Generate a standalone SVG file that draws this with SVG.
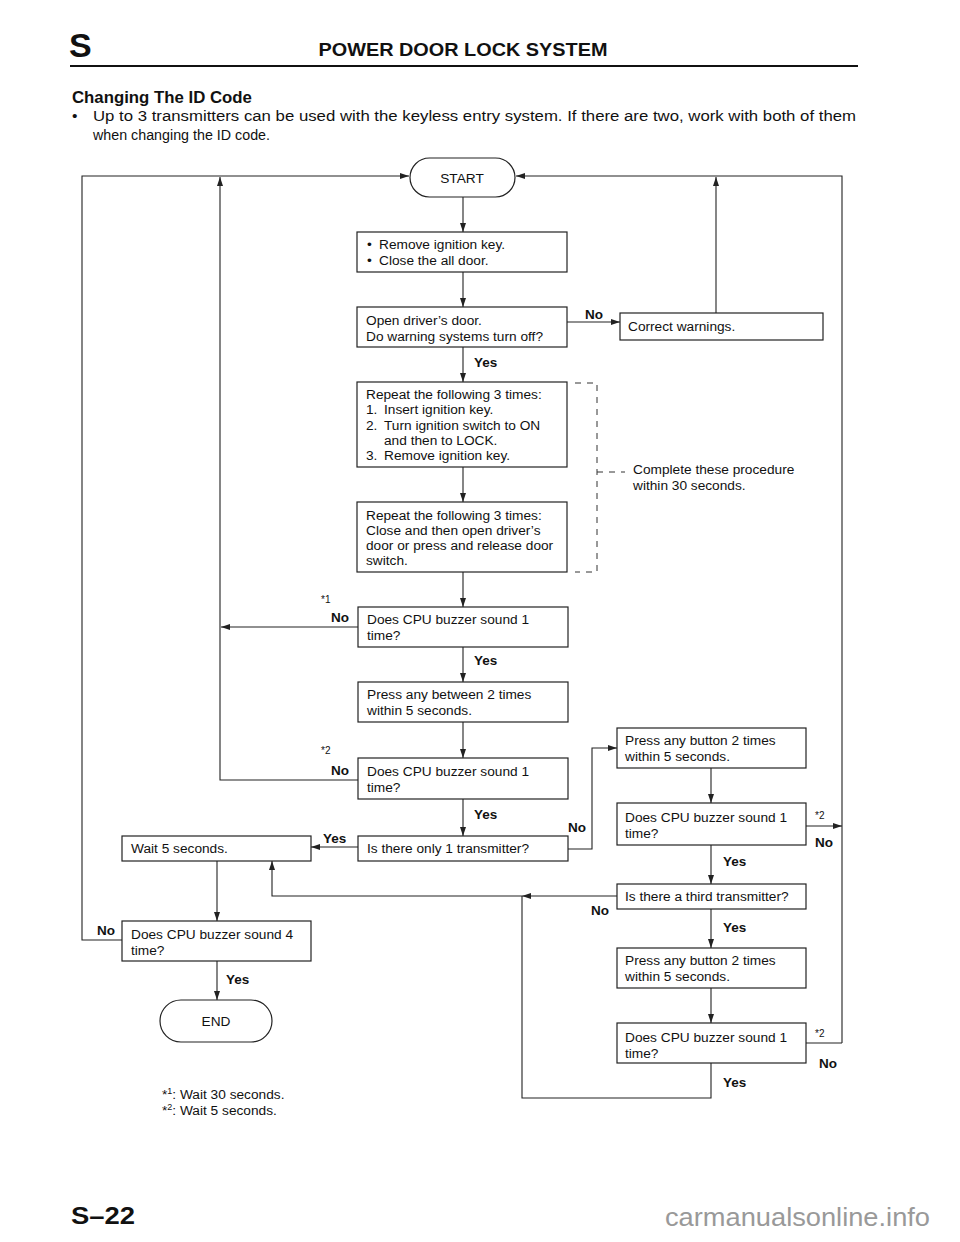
<svg xmlns="http://www.w3.org/2000/svg" width="960" height="1242" viewBox="0 0 960 1242">
<style>
.t{font-family:"Liberation Sans",Arial,sans-serif;font-size:13.7px;fill:#111}
.b{font-family:"Liberation Sans",Arial,sans-serif;font-weight:bold;fill:#111}
.h{font-family:"Liberation Sans",Arial,sans-serif;font-size:15.5px;fill:#111}
.lbl{font-family:"Liberation Sans",Arial,sans-serif;font-weight:bold;font-size:13.5px;fill:#111}
.sm{font-family:"Liberation Sans",Arial,sans-serif;font-size:10px;fill:#111}
.box{fill:#fff;stroke:#222;stroke-width:1.2}
.ln{fill:none;stroke:#222;stroke-width:1.1}
.arr{fill:none;stroke:#222;stroke-width:1.1;marker-end:url(#ah)}
.dash{fill:none;stroke:#333;stroke-width:1;stroke-dasharray:6,6}
</style>
<defs>
<marker id="ah" markerWidth="10" markerHeight="8" refX="9" refY="4" orient="auto" markerUnits="userSpaceOnUse">
<path d="M0,1 L9,4 L0,7 Z" fill="#222"/>
</marker>
</defs>
<rect width="960" height="1242" fill="#fff"/>
<g id="header">
<text class="b" x="69" y="57" font-size="34">S</text>
<text class="b" x="463" y="56" font-size="19" text-anchor="middle" textLength="289" lengthAdjust="spacingAndGlyphs">POWER DOOR LOCK SYSTEM</text>
<line x1="70" y1="66" x2="858" y2="66" stroke="#111" stroke-width="2.2"/>
<text class="b" x="72" y="103" font-size="16.8">Changing The ID Code</text>
<text class="h" x="72" y="121">•</text>
<text class="h" x="93" y="121" textLength="763" lengthAdjust="spacingAndGlyphs">Up to 3 transmitters can be used with the keyless entry system. If there are two, work with both of them</text>
<text class="h" x="93" y="140" textLength="177" lengthAdjust="spacingAndGlyphs">when changing the ID code.</text>
</g>
<g id="connectors">
<polyline class="arr" points="122,940 82,940 82,176 409,176"/>
<polyline class="arr" points="842,1043 842,176 516,176"/>
<line class="arr" x1="806" y1="826" x2="842" y2="826"/>
<line class="ln" x1="806" y1="1043" x2="842" y2="1043"/>
<line class="arr" x1="716" y1="313" x2="716" y2="177"/>
<polyline class="arr" points="358,780 220,780 220,177"/>
<line class="arr" x1="358" y1="627" x2="221" y2="627"/>
<line class="arr" x1="463" y1="197" x2="463" y2="232"/>
<line class="arr" x1="463" y1="272" x2="463" y2="307"/>
<line class="arr" x1="567" y1="322" x2="620" y2="322"/>
<line class="arr" x1="463" y1="347" x2="463" y2="382"/>
<line class="arr" x1="463" y1="467" x2="463" y2="502"/>
<line class="arr" x1="463" y1="572" x2="463" y2="607"/>
<line class="arr" x1="463" y1="647" x2="463" y2="682"/>
<line class="arr" x1="463" y1="722" x2="463" y2="758"/>
<line class="arr" x1="463" y1="799" x2="463" y2="836"/>
<line class="arr" x1="358" y1="847" x2="311" y2="847"/>
<polyline class="arr" points="568,849 592,849 592,748 617,748"/>
<line class="arr" x1="711" y1="768" x2="711" y2="803"/>
<line class="arr" x1="711" y1="845" x2="711" y2="884"/>
<line class="arr" x1="711" y1="909" x2="711" y2="948"/>
<line class="arr" x1="711" y1="988" x2="711" y2="1023"/>
<polyline class="ln" points="711,1063 711,1098 522,1098 522,896"/>
<line class="arr" x1="617" y1="896" x2="522" y2="896"/>
<polyline class="arr" points="522,896 272,896 272,861"/>
<line class="arr" x1="217" y1="861" x2="217" y2="921"/>
<line class="arr" x1="217" y1="961" x2="217" y2="1000"/>
<polyline class="dash" points="575,383 597,383 597,572 575,572"/>
<line class="dash" x1="597" y1="472" x2="625" y2="472"/>
</g>
<g id="labels">
<text class="lbl" x="585" y="319">No</text>
<text class="lbl" x="474" y="367">Yes</text>
<text class="sm" x="321" y="603">*1</text>
<text class="lbl" x="331" y="622">No</text>
<text class="lbl" x="474" y="665">Yes</text>
<text class="sm" x="321" y="754">*2</text>
<text class="lbl" x="331" y="775">No</text>
<text class="lbl" x="474" y="819">Yes</text>
<text class="lbl" x="323" y="843">Yes</text>
<text class="lbl" x="568" y="832">No</text>
<text class="sm" x="815" y="819">*2</text>
<text class="lbl" x="815" y="847">No</text>
<text class="lbl" x="723" y="866">Yes</text>
<text class="lbl" x="591" y="915">No</text>
<text class="lbl" x="723" y="932">Yes</text>
<text class="sm" x="815" y="1037">*2</text>
<text class="lbl" x="819" y="1068">No</text>
<text class="lbl" x="723" y="1087">Yes</text>
<text class="lbl" x="97" y="935">No</text>
<text class="lbl" x="226" y="984">Yes</text>
<text class="t" x="633" y="474">Complete these procedure</text>
<text class="t" x="633" y="490">within 30 seconds.</text>
</g>
<g id="start">
<rect class="box" x="410" y="158" width="105" height="39" rx="19.5"/>
<text class="t" x="462" y="183" text-anchor="middle">START</text>
</g>
<g id="remove-key">
<rect class="box" x="357" y="232" width="210" height="40"/>
<text class="t" x="367" y="249">•</text><text class="t" x="379" y="249">Remove ignition key.</text>
<text class="t" x="367" y="265">•</text><text class="t" x="379" y="265">Close the all door.</text>
</g>
<g id="open-door">
<rect class="box" x="357" y="307" width="210" height="40"/>
<text class="t" x="366" y="325">Open driver’s door.</text>
<text class="t" x="366" y="341">Do warning systems turn off?</text>
</g>
<g id="correct-warnings">
<rect class="box" x="620" y="313" width="203" height="27"/>
<text class="t" x="628" y="331">Correct warnings.</text>
</g>
<g id="repeat-key">
<rect class="box" x="357" y="382" width="210" height="85"/>
<text class="t" x="366" y="399">Repeat the following 3 times:</text>
<text class="t" x="366" y="414">1.</text><text class="t" x="384" y="414">Insert ignition key.</text>
<text class="t" x="366" y="430">2.</text><text class="t" x="384" y="430">Turn ignition switch to ON</text>
<text class="t" x="384" y="445">and then to LOCK.</text>
<text class="t" x="366" y="460">3.</text><text class="t" x="384" y="460">Remove ignition key.</text>
</g>
<g id="repeat-door">
<rect class="box" x="357" y="502" width="210" height="70"/>
<text class="t" x="366" y="520">Repeat the following 3 times:</text>
<text class="t" x="366" y="535">Close and then open driver’s</text>
<text class="t" x="366" y="550">door or press and release door</text>
<text class="t" x="366" y="565">switch.</text>
</g>
<g id="buzzer1">
<rect class="box" x="358" y="607" width="210" height="40"/>
<text class="t" x="367" y="624">Does CPU buzzer sound 1</text>
<text class="t" x="367" y="640">time?</text>
</g>
<g id="press1">
<rect class="box" x="358" y="682" width="210" height="40"/>
<text class="t" x="367" y="699">Press any between 2 times</text>
<text class="t" x="367" y="715">within 5 seconds.</text>
</g>
<g id="buzzer2">
<rect class="box" x="358" y="758" width="210" height="41"/>
<text class="t" x="367" y="776">Does CPU buzzer sound 1</text>
<text class="t" x="367" y="792">time?</text>
</g>
<g id="only-one">
<rect class="box" x="358" y="836" width="210" height="25"/>
<text class="t" x="367" y="853">Is there only 1 transmitter?</text>
</g>
<g id="wait5">
<rect class="box" x="122" y="836" width="189" height="25"/>
<text class="t" x="131" y="853">Wait 5 seconds.</text>
</g>
<g id="buzzer4">
<rect class="box" x="122" y="921" width="189" height="40"/>
<text class="t" x="131" y="939">Does CPU buzzer sound 4</text>
<text class="t" x="131" y="955">time?</text>
</g>
<g id="end">
<rect class="box" x="160" y="1000" width="112" height="42" rx="21"/>
<text class="t" x="216" y="1026" text-anchor="middle">END</text>
</g>
<g id="press2">
<rect class="box" x="617" y="728" width="189" height="40"/>
<text class="t" x="625" y="745">Press any button 2 times</text>
<text class="t" x="625" y="761">within 5 seconds.</text>
</g>
<g id="buzzer3">
<rect class="box" x="617" y="803" width="189" height="42"/>
<text class="t" x="625" y="822">Does CPU buzzer sound 1</text>
<text class="t" x="625" y="838">time?</text>
</g>
<g id="third">
<rect class="box" x="617" y="884" width="189" height="25"/>
<text class="t" x="625" y="901">Is there a third transmitter?</text>
</g>
<g id="press3">
<rect class="box" x="617" y="948" width="189" height="40"/>
<text class="t" x="625" y="965">Press any button 2 times</text>
<text class="t" x="625" y="981">within 5 seconds.</text>
</g>
<g id="buzzer5">
<rect class="box" x="617" y="1023" width="189" height="40"/>
<text class="t" x="625" y="1042">Does CPU buzzer sound 1</text>
<text class="t" x="625" y="1058">time?</text>
</g>
<g id="footnotes">
<text class="t" x="162" y="1099">*<tspan font-size="9" dy="-5">1</tspan><tspan dy="5">: Wait 30 seconds.</tspan></text>
<text class="t" x="162" y="1115">*<tspan font-size="9" dy="-5">2</tspan><tspan dy="5">: Wait 5 seconds.</tspan></text>
</g>
<g id="footer">
<text class="b" x="71" y="1224" font-size="24" textLength="64" lengthAdjust="spacingAndGlyphs">S–22</text>
<text x="665" y="1226" font-family="Liberation Sans,Arial,sans-serif" font-size="25" fill="#999" textLength="265" lengthAdjust="spacingAndGlyphs">carmanualsonline.info</text>
</g>
</svg>
